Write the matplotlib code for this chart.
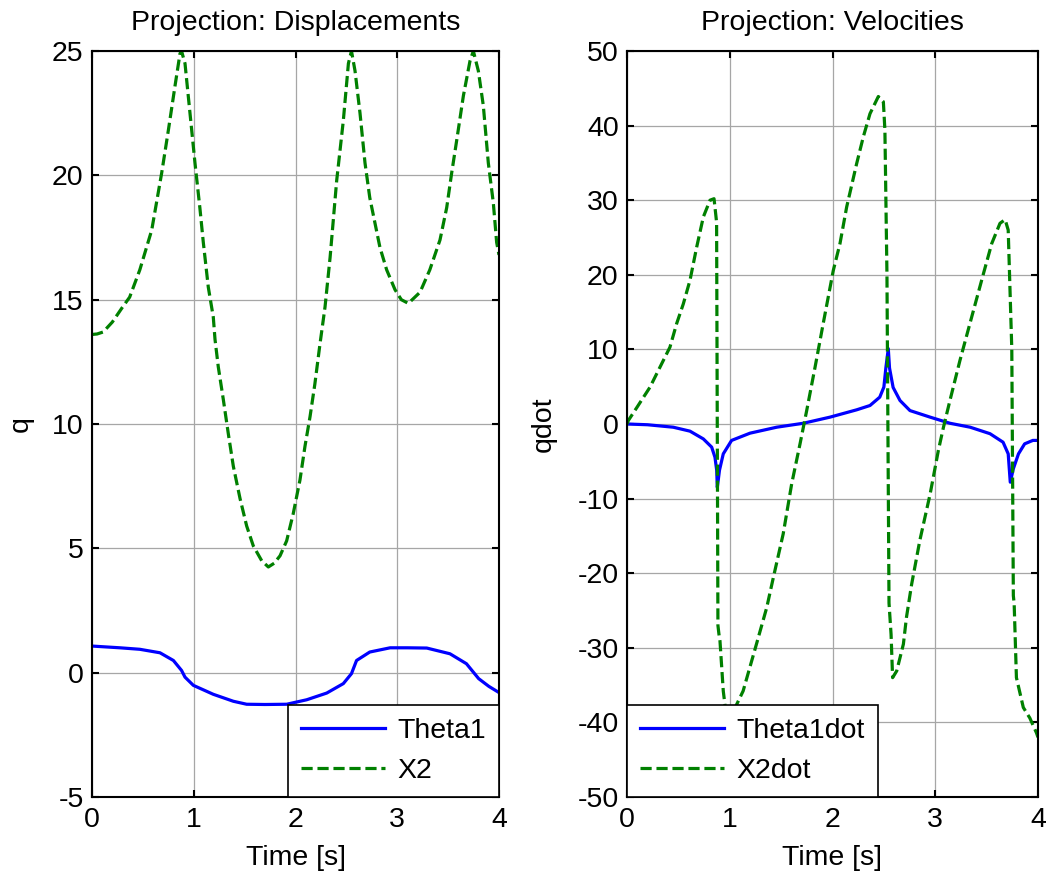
import matplotlib
matplotlib.use("Agg")
import matplotlib.pyplot as plt

plt.rcParams['font.family'] = ['Liberation Sans', 'DejaVu Sans']
plt.rcParams['axes.unicode_minus'] = False

# ---- Displacements ----
t_x2 = [0, 0.05, 0.11, 0.2, 0.3, 0.37, 0.47, 0.587, 0.685, 0.75, 0.816, 0.865, 0.88,
        0.914, 0.963, 1.012, 1.06, 1.094, 1.143, 1.192, 1.209, 1.241, 1.29, 1.34, 1.389,
        1.455, 1.52, 1.585, 1.668, 1.733, 1.79, 1.848, 1.913, 1.978, 2.044, 2.093, 2.143,
        2.19, 2.24, 2.29, 2.34, 2.405, 2.47, 2.52, 2.55, 2.585, 2.634, 2.683, 2.73, 2.78,
        2.83, 2.896, 2.978, 3.04, 3.109, 3.224, 3.32, 3.42, 3.486, 3.535, 3.584, 3.65,
        3.715, 3.748, 3.797, 3.846, 3.895, 3.944, 3.977, 4.0]
x2 = [13.6, 13.62, 13.7, 14.1, 14.7, 15.1, 16.2, 17.8, 20.1, 21.8, 23.6, 24.9, 25.0,
      24.5, 22.5, 20.5, 18.7, 17.3, 15.5, 14.3, 13.4, 12.3, 11.0, 9.6, 8.3,
      7.0, 5.9, 5.1, 4.5, 4.25, 4.4, 4.7, 5.3, 6.4, 7.75, 9.1, 10.3,
      11.6, 13.2, 14.7, 16.7, 19.8, 22.2, 24.5, 25.0, 24.2, 22.5, 20.5, 19.1, 18.1,
      17.1, 16.2, 15.4, 15.0, 14.85, 15.3, 16.2, 17.4, 18.7, 20.1, 21.4, 23.2,
      24.6, 25.0, 24.2, 22.8, 20.5, 18.9, 17.3, 16.8]

t_th1 = [0, 0.275, 0.47, 0.668, 0.8, 0.88, 0.914, 0.996, 1.192, 1.389, 1.52, 1.7, 1.913,
         2.11, 2.307, 2.47, 2.55, 2.6, 2.73, 2.93, 3.1, 3.29, 3.518, 3.68, 3.8, 3.9, 4.0]
theta1 = [1.07, 1.0, 0.94, 0.8, 0.49, 0.09, -0.18, -0.51, -0.87, -1.15, -1.27, -1.28, -1.27,
          -1.09, -0.82, -0.44, -0.04, 0.49, 0.83, 1.0, 1.0, 0.99, 0.76, 0.36, -0.24, -0.55, -0.8]

# ---- Velocities ----
t_x2d = [0, 0.013, 0.1, 0.224, 0.418, 0.483, 0.548, 0.613, 0.678, 0.743, 0.808, 0.847, 0.866,
         0.872, 0.885, 0.895, 0.905, 0.937, 0.97, 1.0, 1.067, 1.13, 1.26, 1.36, 1.424, 1.52,
         1.603, 1.684, 1.749, 1.83, 1.91, 2.008, 2.073, 2.138, 2.235, 2.3, 2.365, 2.446,
         2.495, 2.51, 2.53, 2.55, 2.57, 2.585, 2.625, 2.69, 2.72, 2.77, 2.85, 2.95, 3.03,
         3.08, 3.143, 3.24, 3.34, 3.47, 3.55, 3.63, 3.68, 3.71, 3.745, 3.76, 3.768, 3.79,
         3.857, 3.92, 3.985, 4.0]
x2dot = [0, 0.47, 2.3, 4.94, 10.3, 13.45, 16.1, 19.26, 23.7, 27.76, 30.0, 30.2, 27.8,
         27.0, -27.0, -28.2, -29.1, -35.8, -39.5, -40.0, -37.6, -35.8, -29.5, -24.6, -20.6, -14.74,
         -8.0, -2.66, 1.81, 7.6, 13.5, 20.6, 24.2, 29.1, 34.9, 38.5, 41.6, 43.9,
         43.2, 39.4, 20.0, -24.0, -28.2, -34.0, -33.1, -29.5, -25.9, -21.5, -15.6, -9.4, -3.56,
         -0.43, 3.15, 8.5, 13.6, 20.2, 24.2, 26.9, 27.4, 26.0, 10.0, -23.0, -24.1, -34.0,
         -38.0, -39.4, -41.4, -42.0]

t_th1d = [0, 0.2, 0.45, 0.613, 0.743, 0.824, 0.856, 0.873, 0.879, 0.9, 0.937, 1.018, 1.197,
          1.457, 1.716, 1.976, 2.235, 2.365, 2.46, 2.5, 2.52, 2.543, 2.555, 2.59, 2.657, 2.754,
          2.95, 3.143, 3.34, 3.533, 3.66, 3.71, 3.73, 3.76, 3.81, 3.87, 3.95, 4.0]
theta1dot = [0, -0.1, -0.43, -0.96, -2.0, -3.1, -4.45, -6.2, -8.5, -6.2, -4.0, -2.2, -1.23,
             -0.43, 0.1, 0.92, 1.9, 2.48, 3.6, 4.95, 7.6, 10.1, 7.5, 4.9, 3.15, 1.8,
             0.92, 0.1, -0.43, -1.3, -2.44, -4.0, -7.8, -6.0, -4.0, -2.66, -2.2, -2.2]

x_ticks = [0, 1, 2, 3, 4]
q_ticks = [-5, 0, 5, 10, 15, 20, 25]
qd_ticks = [-50, -40, -30, -20, -10, 0, 10, 20, 30, 40, 50]

BLUE = '#0000ff'
GREEN = '#008000'
FS = 20.5

fig = plt.figure(figsize=(10.49, 8.77), dpi=100)
W, H = 1049, 877
ax1 = fig.add_axes([92 / W, 1 - 797 / H, (499 - 92) / W, (797 - 51) / H])
ax2 = fig.add_axes([627 / W, 1 - 797 / H, (1038 - 627) / W, (797 - 51) / H])


def style(ax):
    ax.grid(True, color='#a6a6a6', linewidth=0.9)
    ax.set_axisbelow(True)
    for s in ax.spines.values():
        s.set_linewidth(1.5)
        s.set_color('black')
    ax.tick_params(direction='in', top=True, right=True, length=5, width=1.5,
                   labelsize=FS)
    ax.tick_params(axis='y', pad=6)
    ax.tick_params(axis='x', pad=7)
    ax.set_xlim(0, 4)
    ax.set_xticks(x_ticks)
    ax.set_xlabel('Time [s]', fontsize=FS, labelpad=9)


def legend(ax, loc):
    leg = ax.legend(loc=loc, fontsize=FS, borderaxespad=0, fancybox=False,
                    framealpha=1, edgecolor='black', handlelength=2.95,
                    handletextpad=0.45, borderpad=0.45, labelspacing=0.5)
    leg.get_frame().set_linewidth(1.2)


ax1.plot(t_th1, theta1, color=BLUE, linewidth=2.3, label='Theta1')
ax1.plot(t_x2, x2, color=GREEN, linewidth=2.3, linestyle=(0, (3.5, 1.5)), label='X2')
style(ax1)
ax1.set_ylim(-5, 25)
ax1.set_yticks(q_ticks)
ax1.set_ylabel('q', fontsize=FS)
ax1.yaxis.set_label_coords(-0.1425, 0.5)
ax1.set_title('Projection: Displacements', fontsize=FS, pad=15)
legend(ax1, 'lower right')

ax2.plot(t_th1d, theta1dot, color=BLUE, linewidth=2.3, label='Theta1dot')
ax2.plot(t_x2d, x2dot, color=GREEN, linewidth=2.3, linestyle=(0, (3.5, 1.5)), label='X2dot')
style(ax2)
ax2.set_ylim(-50, 50)
ax2.set_yticks(qd_ticks)
ax2.set_ylabel('qdot', fontsize=FS)
ax2.yaxis.set_label_coords(-0.170, 0.5)
ax2.set_title('Projection: Velocities', fontsize=FS, pad=15)
legend(ax2, 'lower left')

fig.savefig('out.png', dpi=100)
